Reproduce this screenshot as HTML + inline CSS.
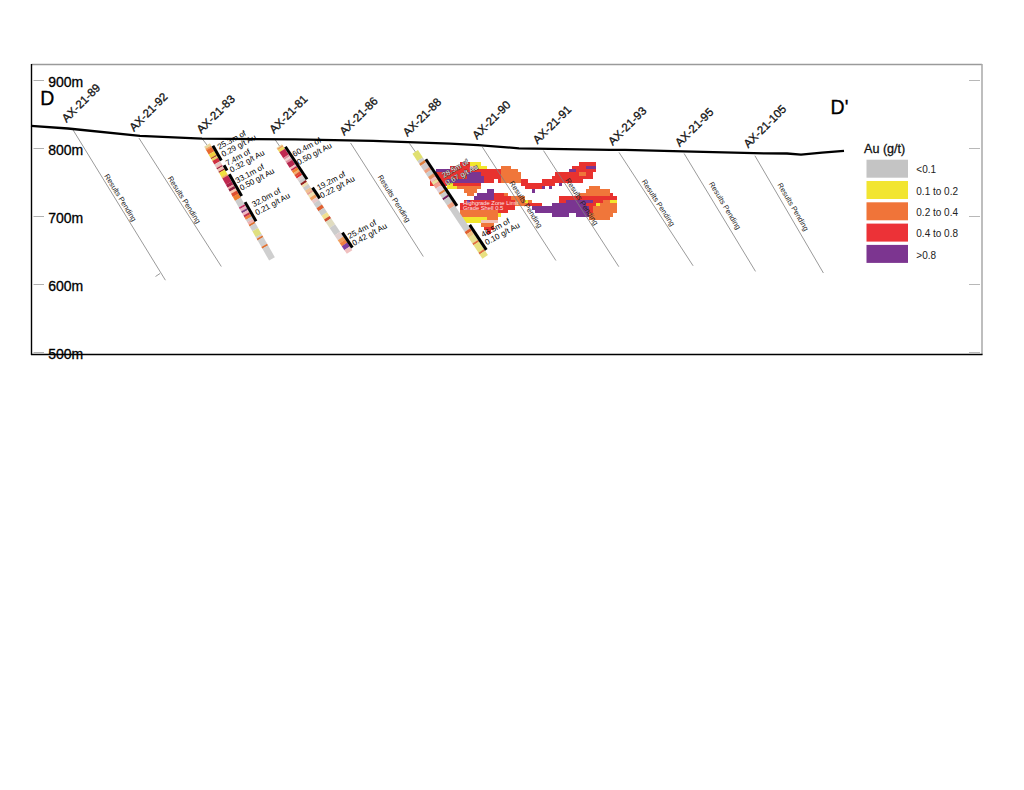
<!DOCTYPE html>
<html><head><meta charset="utf-8"><style>html,body{margin:0;padding:0;background:#fff;width:1024px;height:790px;overflow:hidden}svg{display:block}</style></head>
<body><svg width="1024" height="790" viewBox="0 0 1024 790"><line x1="31.5" y1="64.5" x2="982" y2="64.5" stroke="#9a9a9a" stroke-width="1.3"/>
<line x1="982" y1="64" x2="982" y2="355" stroke="#a8a8a8" stroke-width="1.5"/>
<line x1="31.5" y1="64" x2="31.5" y2="355" stroke="#000" stroke-width="1.4"/>
<line x1="31" y1="354.5" x2="982.5" y2="354.5" stroke="#000" stroke-width="1.4"/>
<line x1="33.5" y1="80.5" x2="44" y2="80.5" stroke="#b0b0b0" stroke-width="1"/>
<line x1="969" y1="80.5" x2="980" y2="80.5" stroke="#b8b8b8" stroke-width="1"/>
<text x="48.2" y="87.0" font-size="14" font-family="Liberation Sans, sans-serif" fill="#000" stroke="#000" stroke-width="0.3">900m</text>
<line x1="33.5" y1="148.5" x2="44" y2="148.5" stroke="#b0b0b0" stroke-width="1"/>
<line x1="969" y1="148.5" x2="980" y2="148.5" stroke="#b8b8b8" stroke-width="1"/>
<text x="48.2" y="155.0" font-size="14" font-family="Liberation Sans, sans-serif" fill="#000" stroke="#000" stroke-width="0.3">800m</text>
<line x1="33.5" y1="216.5" x2="44" y2="216.5" stroke="#b0b0b0" stroke-width="1"/>
<line x1="969" y1="216.5" x2="980" y2="216.5" stroke="#b8b8b8" stroke-width="1"/>
<text x="48.2" y="223.0" font-size="14" font-family="Liberation Sans, sans-serif" fill="#000" stroke="#000" stroke-width="0.3">700m</text>
<line x1="33.5" y1="284.5" x2="44" y2="284.5" stroke="#b0b0b0" stroke-width="1"/>
<line x1="969" y1="284.5" x2="980" y2="284.5" stroke="#b8b8b8" stroke-width="1"/>
<text x="48.2" y="291.0" font-size="14" font-family="Liberation Sans, sans-serif" fill="#000" stroke="#000" stroke-width="0.3">600m</text>
<line x1="33.5" y1="352.5" x2="44" y2="352.5" stroke="#b0b0b0" stroke-width="1"/>
<line x1="969" y1="352.5" x2="980" y2="352.5" stroke="#b8b8b8" stroke-width="1"/>
<text x="48.2" y="359.0" font-size="14" font-family="Liberation Sans, sans-serif" fill="#000" stroke="#000" stroke-width="0.3">500m</text>
<text x="40.3" y="105.1" font-size="19.5" font-family="Liberation Sans, sans-serif" fill="#000" stroke="#000" stroke-width="0.3">D</text>
<text x="830.6" y="113.8" font-size="19.5" font-family="Liberation Sans, sans-serif" fill="#000" stroke="#000" stroke-width="0.3">D'</text>
<g shape-rendering="crispEdges">
<rect x="460.10" y="162.10" width="10.25" height="3.45" fill="#e8322f"/>
<rect x="470.30" y="162.10" width="10.25" height="3.45" fill="#f2e62e"/>
<rect x="579.10" y="162.10" width="17.05" height="3.45" fill="#e8322f"/>
<rect x="449.90" y="165.50" width="20.45" height="3.45" fill="#e8322f"/>
<rect x="470.30" y="165.50" width="6.85" height="3.45" fill="#f2c4b8"/>
<rect x="477.10" y="165.50" width="10.25" height="3.45" fill="#f2e62e"/>
<rect x="500.90" y="165.50" width="10.25" height="3.45" fill="#f0763a"/>
<rect x="572.30" y="165.50" width="13.65" height="3.45" fill="#e8322f"/>
<rect x="585.90" y="165.50" width="10.25" height="3.45" fill="#7a3591"/>
<rect x="436.30" y="168.90" width="13.65" height="3.45" fill="#7a3591"/>
<rect x="449.90" y="168.90" width="51.05" height="3.45" fill="#e8322f"/>
<rect x="500.90" y="168.90" width="17.05" height="3.45" fill="#f0763a"/>
<rect x="568.90" y="168.90" width="6.85" height="3.45" fill="#7a3591"/>
<rect x="575.70" y="168.90" width="20.45" height="3.45" fill="#e8322f"/>
<rect x="436.30" y="172.30" width="30.65" height="3.45" fill="#e8322f"/>
<rect x="466.90" y="172.30" width="13.65" height="3.45" fill="#7a3591"/>
<rect x="480.50" y="172.30" width="20.45" height="3.45" fill="#e8322f"/>
<rect x="500.90" y="172.30" width="20.45" height="3.45" fill="#f0763a"/>
<rect x="555.30" y="172.30" width="23.85" height="3.45" fill="#e8322f"/>
<rect x="579.10" y="172.30" width="6.85" height="3.45" fill="#f0763a"/>
<rect x="585.90" y="172.30" width="6.85" height="3.45" fill="#e8322f"/>
<rect x="429.50" y="175.70" width="37.45" height="3.45" fill="#e8322f"/>
<rect x="466.90" y="175.70" width="17.05" height="3.45" fill="#7a3591"/>
<rect x="483.90" y="175.70" width="17.05" height="3.45" fill="#e8322f"/>
<rect x="500.90" y="175.70" width="20.45" height="3.45" fill="#f0763a"/>
<rect x="551.90" y="175.70" width="40.85" height="3.45" fill="#e8322f"/>
<rect x="429.50" y="179.10" width="17.05" height="3.45" fill="#e8322f"/>
<rect x="446.50" y="179.10" width="37.45" height="3.45" fill="#7a3591"/>
<rect x="483.90" y="179.10" width="10.25" height="3.45" fill="#e8322f"/>
<rect x="497.50" y="179.10" width="3.45" height="3.45" fill="#e8322f"/>
<rect x="500.90" y="179.10" width="20.45" height="3.45" fill="#f0763a"/>
<rect x="521.30" y="179.10" width="6.85" height="3.45" fill="#e8322f"/>
<rect x="541.70" y="179.10" width="40.85" height="3.45" fill="#e8322f"/>
<rect x="429.50" y="182.50" width="17.05" height="3.45" fill="#e8322f"/>
<rect x="446.50" y="182.50" width="6.85" height="3.45" fill="#f2e62e"/>
<rect x="453.30" y="182.50" width="27.25" height="3.45" fill="#e8322f"/>
<rect x="521.30" y="182.50" width="34.05" height="3.45" fill="#e8322f"/>
<rect x="558.70" y="182.50" width="3.45" height="3.45" fill="#7a3591"/>
<rect x="446.50" y="185.90" width="10.25" height="3.45" fill="#f2e62e"/>
<rect x="456.70" y="185.90" width="23.85" height="3.45" fill="#f0763a"/>
<rect x="524.70" y="185.90" width="17.05" height="3.45" fill="#e8322f"/>
<rect x="541.70" y="185.90" width="3.45" height="3.45" fill="#7a3591"/>
<rect x="548.50" y="185.90" width="3.45" height="3.45" fill="#7a3591"/>
<rect x="589.30" y="185.90" width="10.25" height="3.45" fill="#f0763a"/>
<rect x="463.50" y="189.30" width="13.65" height="3.45" fill="#f0763a"/>
<rect x="487.30" y="189.30" width="6.85" height="3.45" fill="#7a3591"/>
<rect x="531.50" y="189.30" width="3.45" height="3.45" fill="#7a3591"/>
<rect x="585.90" y="189.30" width="23.85" height="3.45" fill="#f0763a"/>
<rect x="466.90" y="192.70" width="6.85" height="3.45" fill="#f0763a"/>
<rect x="477.10" y="192.70" width="17.05" height="3.45" fill="#7a3591"/>
<rect x="494.10" y="192.70" width="10.25" height="3.45" fill="#e8322f"/>
<rect x="504.30" y="192.70" width="3.45" height="3.45" fill="#f0763a"/>
<rect x="579.10" y="192.70" width="30.65" height="3.45" fill="#f0763a"/>
<rect x="609.70" y="192.70" width="3.45" height="3.45" fill="#e8322f"/>
<rect x="473.70" y="196.10" width="20.45" height="3.45" fill="#7a3591"/>
<rect x="494.10" y="196.10" width="17.05" height="3.45" fill="#e8322f"/>
<rect x="511.10" y="196.10" width="13.65" height="3.45" fill="#f0763a"/>
<rect x="558.70" y="196.10" width="57.85" height="3.45" fill="#e8322f"/>
<rect x="463.50" y="199.50" width="3.45" height="3.45" fill="#e8322f"/>
<rect x="466.90" y="199.50" width="3.45" height="3.45" fill="#7a3591"/>
<rect x="470.30" y="199.50" width="44.25" height="3.45" fill="#e8322f"/>
<rect x="514.50" y="199.50" width="10.25" height="3.45" fill="#f0763a"/>
<rect x="524.70" y="199.50" width="3.45" height="3.45" fill="#f2e62e"/>
<rect x="528.10" y="199.50" width="3.45" height="3.45" fill="#f0763a"/>
<rect x="558.70" y="199.50" width="6.85" height="3.45" fill="#e8322f"/>
<rect x="565.50" y="199.50" width="27.25" height="3.45" fill="#7a3591"/>
<rect x="592.70" y="199.50" width="10.25" height="3.45" fill="#e8322f"/>
<rect x="602.90" y="199.50" width="6.85" height="3.45" fill="#f0763a"/>
<rect x="609.70" y="199.50" width="6.85" height="3.45" fill="#f2e62e"/>
<rect x="460.10" y="202.90" width="54.45" height="3.45" fill="#e8322f"/>
<rect x="514.50" y="202.90" width="13.65" height="3.45" fill="#f0763a"/>
<rect x="528.10" y="202.90" width="13.65" height="3.45" fill="#e8322f"/>
<rect x="551.90" y="202.90" width="34.05" height="3.45" fill="#7a3591"/>
<rect x="585.90" y="202.90" width="10.25" height="3.45" fill="#e8322f"/>
<rect x="596.10" y="202.90" width="3.45" height="3.45" fill="#f2e62e"/>
<rect x="599.50" y="202.90" width="17.05" height="3.45" fill="#f0763a"/>
<rect x="460.10" y="206.30" width="54.45" height="3.45" fill="#e8322f"/>
<rect x="531.50" y="206.30" width="57.85" height="3.45" fill="#7a3591"/>
<rect x="589.30" y="206.30" width="3.45" height="3.45" fill="#e8322f"/>
<rect x="592.70" y="206.30" width="23.85" height="3.45" fill="#f0763a"/>
<rect x="460.10" y="209.70" width="37.45" height="3.45" fill="#f0763a"/>
<rect x="497.50" y="209.70" width="10.25" height="3.45" fill="#e8322f"/>
<rect x="534.90" y="209.70" width="54.45" height="3.45" fill="#7a3591"/>
<rect x="589.30" y="209.70" width="3.45" height="3.45" fill="#e8322f"/>
<rect x="592.70" y="209.70" width="23.85" height="3.45" fill="#f0763a"/>
<rect x="456.70" y="213.10" width="40.85" height="3.45" fill="#f0763a"/>
<rect x="497.50" y="213.10" width="3.45" height="3.45" fill="#f2e62e"/>
<rect x="551.90" y="213.10" width="17.05" height="3.45" fill="#7a3591"/>
<rect x="575.70" y="213.10" width="13.65" height="3.45" fill="#7a3591"/>
<rect x="589.30" y="213.10" width="23.85" height="3.45" fill="#f0763a"/>
<rect x="460.10" y="216.50" width="27.25" height="3.45" fill="#f2e62e"/>
<rect x="487.30" y="216.50" width="10.25" height="3.45" fill="#f0763a"/>
<rect x="589.30" y="216.50" width="20.45" height="3.45" fill="#f0763a"/>
<rect x="460.10" y="219.90" width="20.45" height="3.45" fill="#f2e62e"/>
<rect x="480.50" y="219.90" width="17.05" height="3.45" fill="#f2c4b8"/>
<rect x="480.50" y="223.30" width="13.65" height="3.45" fill="#f0763a"/>
<rect x="483.90" y="226.70" width="10.25" height="3.45" fill="#e8322f"/>
<rect x="487.30" y="230.10" width="3.45" height="3.45" fill="#e8322f"/>
</g>
<text x="463" y="205.4" font-size="5.8" font-family="Liberation Sans, sans-serif" fill="#fbe4e4">Highgrade Zone Limit</text>
<text x="463" y="210.3" font-size="5.8" font-family="Liberation Sans, sans-serif" fill="#fbe4e4">Grade Shell 0.5</text>
<line x1="72.9" y1="129.7" x2="165.4" y2="280.2" stroke="#808080" stroke-width="0.8"/>
<text transform="translate(103.0,176.6) rotate(58.4) translate(0,-1.3)" font-size="7.45" font-family="Liberation Sans, sans-serif" fill="#222">Results Pending</text>
<line x1="138.9" y1="138" x2="221.3" y2="266.5" stroke="#808080" stroke-width="0.8"/>
<text transform="translate(166.3,179.0) rotate(57.3) translate(0,-1.3)" font-size="7.45" font-family="Liberation Sans, sans-serif" fill="#222">Results Pending</text>
<line x1="350.6" y1="143" x2="423.3" y2="256.5" stroke="#808080" stroke-width="0.8"/>
<text transform="translate(376.3,177.8) rotate(57.4) translate(0,-1.3)" font-size="7.45" font-family="Liberation Sans, sans-serif" fill="#222">Results Pending</text>
<line x1="482.4" y1="147.1" x2="555.9" y2="260.5" stroke="#808080" stroke-width="0.8"/>
<text transform="translate(508.0,183.7) rotate(57.1) translate(0,-1.3)" font-size="7.45" font-family="Liberation Sans, sans-serif" fill="#222">Results Pending</text>
<line x1="543.5" y1="150.6" x2="618.8" y2="266.7" stroke="#808080" stroke-width="0.8"/>
<text transform="translate(563.9,180.9) rotate(57.0) translate(0,-1.3)" font-size="7.45" font-family="Liberation Sans, sans-serif" fill="#222">Results Pending</text>
<line x1="619" y1="152.4" x2="693.1" y2="265.8" stroke="#808080" stroke-width="0.8"/>
<text transform="translate(640.3,182.2) rotate(56.8) translate(0,-1.3)" font-size="7.45" font-family="Liberation Sans, sans-serif" fill="#222">Results Pending</text>
<line x1="684.1" y1="153.5" x2="755.5" y2="271.4" stroke="#808080" stroke-width="0.8"/>
<text transform="translate(707.7,184.4) rotate(58.8) translate(0,-1.3)" font-size="7.45" font-family="Liberation Sans, sans-serif" fill="#222">Results Pending</text>
<line x1="754.9" y1="155.7" x2="823.4" y2="273" stroke="#808080" stroke-width="0.8"/>
<text transform="translate(776.2,185.4) rotate(59.7) translate(0,-1.3)" font-size="7.45" font-family="Liberation Sans, sans-serif" fill="#222">Results Pending</text>
<line x1="155.5" y1="276.5" x2="160" y2="273.5" stroke="#808080" stroke-width="0.8"/>
<line x1="202" y1="138.5" x2="207" y2="145" stroke="#808080" stroke-width="0.8"/>
<line x1="275" y1="139.5" x2="279.5" y2="146" stroke="#808080" stroke-width="0.8"/>
<line x1="409.5" y1="143.5" x2="415.5" y2="152" stroke="#808080" stroke-width="0.8"/>
<polyline fill="none" stroke="#000" stroke-width="2.3" stroke-linejoin="round" points="31,125.8 68,128.5 140,135.9 202,138.7 295,139.4 373,140.9 450,143.6 478,145.2 519,148.3 610,149.8 625,149.8 683,151.4 765,153.4 787,153.5 801,154.7 822,152.6 844,150.8"/>
<text transform="translate(66.6,122.9) rotate(-45)" font-size="11.5" font-family="Liberation Sans, sans-serif" fill="#111" stroke="#111" stroke-width="0.3">AX-21-89</text>
<text transform="translate(134.0,131.9) rotate(-45)" font-size="11.5" font-family="Liberation Sans, sans-serif" fill="#111" stroke="#111" stroke-width="0.3">AX-21-92</text>
<text transform="translate(201.3,134.1) rotate(-45)" font-size="11.5" font-family="Liberation Sans, sans-serif" fill="#111" stroke="#111" stroke-width="0.3">AX-21-83</text>
<text transform="translate(274.0,134.1) rotate(-45)" font-size="11.5" font-family="Liberation Sans, sans-serif" fill="#111" stroke="#111" stroke-width="0.3">AX-21-81</text>
<text transform="translate(344.2,136.0) rotate(-45)" font-size="11.5" font-family="Liberation Sans, sans-serif" fill="#111" stroke="#111" stroke-width="0.3">AX-21-86</text>
<text transform="translate(407.6,137.0) rotate(-45)" font-size="11.5" font-family="Liberation Sans, sans-serif" fill="#111" stroke="#111" stroke-width="0.3">AX-21-88</text>
<text transform="translate(477.0,139.9) rotate(-45)" font-size="11.5" font-family="Liberation Sans, sans-serif" fill="#111" stroke="#111" stroke-width="0.3">AX-21-90</text>
<text transform="translate(537.6,144.5) rotate(-45)" font-size="11.5" font-family="Liberation Sans, sans-serif" fill="#111" stroke="#111" stroke-width="0.3">AX-21-91</text>
<text transform="translate(612.8,145.9) rotate(-45)" font-size="11.5" font-family="Liberation Sans, sans-serif" fill="#111" stroke="#111" stroke-width="0.3">AX-21-93</text>
<text transform="translate(679.8,147.2) rotate(-45)" font-size="11.5" font-family="Liberation Sans, sans-serif" fill="#111" stroke="#111" stroke-width="0.3">AX-21-95</text>
<text transform="translate(748.2,148.6) rotate(-45)" font-size="11.5" font-family="Liberation Sans, sans-serif" fill="#111" stroke="#111" stroke-width="0.3">AX-21-105</text>
<g transform="translate(207,145) rotate(60.3)">
<rect x="0" y="-3.3" width="2.55" height="6.6" fill="#e8d8a0"/>
<rect x="2.4" y="-3.3" width="1.95" height="6.6" fill="#f0a060"/>
<rect x="4.2" y="-3.3" width="4.95" height="6.6" fill="#e86a30"/>
<rect x="9" y="-3.3" width="4.15" height="6.6" fill="#f0d040"/>
<rect x="13" y="-3.3" width="1.65" height="6.6" fill="#b05020"/>
<rect x="14.5" y="-3.3" width="2.25" height="6.6" fill="#f0d060"/>
<rect x="16.6" y="-3.3" width="4.05" height="6.6" fill="#d03040"/>
<rect x="20.5" y="-3.3" width="2.85" height="6.6" fill="#e0c8c8"/>
<rect x="23.2" y="-3.3" width="1.85" height="6.6" fill="#f0b8b0"/>
<rect x="24.9" y="-3.3" width="1.45" height="6.6" fill="#a02040"/>
<rect x="26.2" y="-3.3" width="2.85" height="6.6" fill="#f0c0b0"/>
<rect x="28.9" y="-3.3" width="1.45" height="6.6" fill="#a02030"/>
<rect x="30.2" y="-3.3" width="4.95" height="6.6" fill="#f0e040"/>
<rect x="35" y="-3.3" width="1.95" height="6.6" fill="#f0b060"/>
<rect x="36.8" y="-3.3" width="7.15" height="6.6" fill="#c02850"/>
<rect x="43.8" y="-3.3" width="3.65" height="6.6" fill="#a82048"/>
<rect x="47.3" y="-3.3" width="1.85" height="6.6" fill="#f0a0a0"/>
<rect x="49" y="-3.3" width="2.85" height="6.6" fill="#902040"/>
<rect x="51.7" y="-3.3" width="2.75" height="6.6" fill="#f8c8b0"/>
<rect x="54.3" y="-3.3" width="3.65" height="6.6" fill="#e05030"/>
<rect x="57.8" y="-3.3" width="4.75" height="6.6" fill="#f08030"/>
<rect x="62.4" y="-3.3" width="7.75" height="6.6" fill="#cccccc"/>
<rect x="70" y="-3.3" width="2.05" height="6.6" fill="#c03060"/>
<rect x="71.9" y="-3.3" width="2.95" height="6.6" fill="#e8b0c0"/>
<rect x="74.7" y="-3.3" width="2.05" height="6.6" fill="#804080"/>
<rect x="76.6" y="-3.3" width="2.95" height="6.6" fill="#f0b8c0"/>
<rect x="79.4" y="-3.3" width="2.15" height="6.6" fill="#c03050"/>
<rect x="81.4" y="-3.3" width="2.95" height="6.6" fill="#f08040"/>
<rect x="84.2" y="-3.3" width="2.95" height="6.6" fill="#d0c8c8"/>
<rect x="87" y="-3.3" width="3.05" height="6.6" fill="#f0b0b0"/>
<rect x="89.9" y="-3.3" width="2.05" height="6.6" fill="#e07030"/>
<rect x="91.8" y="-3.3" width="5.75" height="6.6" fill="#cfcfcf"/>
<rect x="97.4" y="-3.3" width="6.85" height="6.6" fill="#e0e080"/>
<rect x="104.1" y="-3.3" width="2.05" height="6.6" fill="#cfcfcf"/>
<rect x="106" y="-3.3" width="2.05" height="6.6" fill="#e07030"/>
<rect x="107.9" y="-3.3" width="7.75" height="6.6" fill="#cfcfcf"/>
<rect x="115.5" y="-3.3" width="2.05" height="6.6" fill="#e07030"/>
<rect x="117.4" y="-3.3" width="13.75" height="6.6" fill="#cfcfcf"/>
<rect x="3.5" y="-6.3" width="17.0" height="3.0" fill="#000"/>
<rect x="26" y="-6.3" width="6" height="3.0" fill="#000"/>
<rect x="36.5" y="-6.3" width="25.0" height="3.0" fill="#000"/>
<rect x="68.5" y="-6.3" width="22.0" height="3.0" fill="#000"/>
</g>
<g transform="translate(279.2,146.1) rotate(56.4)">
<rect x="0" y="-3.3" width="1.15" height="6.6" fill="#e8d8a0"/>
<rect x="1" y="-3.3" width="1.75" height="6.6" fill="#f0a060"/>
<rect x="2.6" y="-3.3" width="2.85" height="6.6" fill="#f0d860"/>
<rect x="5.3" y="-3.3" width="7.05" height="6.6" fill="#c02850"/>
<rect x="12.2" y="-3.3" width="2.25" height="6.6" fill="#e090a0"/>
<rect x="14.3" y="-3.3" width="2.25" height="6.6" fill="#f0d0d0"/>
<rect x="16.4" y="-3.3" width="2.25" height="6.6" fill="#e090a0"/>
<rect x="18.5" y="-3.3" width="5.55" height="6.6" fill="#b82850"/>
<rect x="23.9" y="-3.3" width="2.25" height="6.6" fill="#f0c0c0"/>
<rect x="26" y="-3.3" width="1.75" height="6.6" fill="#c02850"/>
<rect x="27.6" y="-3.3" width="2.85" height="6.6" fill="#f08030"/>
<rect x="30.3" y="-3.3" width="2.25" height="6.6" fill="#f0b070"/>
<rect x="32.4" y="-3.3" width="2.25" height="6.6" fill="#e05030"/>
<rect x="34.5" y="-3.3" width="2.35" height="6.6" fill="#e03030"/>
<rect x="36.7" y="-3.3" width="3.25" height="6.6" fill="#e0d0d0"/>
<rect x="39.8" y="-3.3" width="3.35" height="6.6" fill="#cccccc"/>
<rect x="43" y="-3.3" width="2.25" height="6.6" fill="#902020"/>
<rect x="45.1" y="-3.3" width="2.85" height="6.6" fill="#f0e0b0"/>
<rect x="47.8" y="-3.3" width="3.85" height="6.6" fill="#cccccc"/>
<rect x="51.5" y="-3.3" width="3.35" height="6.6" fill="#f0c090"/>
<rect x="54.7" y="-3.3" width="2.25" height="6.6" fill="#e8a090"/>
<rect x="56.8" y="-3.3" width="3.35" height="6.6" fill="#f0e0b0"/>
<rect x="60" y="-3.3" width="3.35" height="6.6" fill="#f0a060"/>
<rect x="63.2" y="-3.3" width="3.95" height="6.6" fill="#e8c8c8"/>
<rect x="67" y="-3.3" width="5.55" height="6.6" fill="#cccccc"/>
<rect x="72.4" y="-3.3" width="3.75" height="6.6" fill="#e06030"/>
<rect x="76" y="-3.3" width="5.65" height="6.6" fill="#cccccc"/>
<rect x="81.5" y="-3.3" width="4.65" height="6.6" fill="#f0e090"/>
<rect x="86" y="-3.3" width="2.95" height="6.6" fill="#d05030"/>
<rect x="88.8" y="-3.3" width="7.35" height="6.6" fill="#e0dcc0"/>
<rect x="96" y="-3.3" width="9.15" height="6.6" fill="#cccccc"/>
<rect x="105" y="-3.3" width="5.85" height="6.6" fill="#e0d0d0"/>
<rect x="110.7" y="-3.3" width="3.85" height="6.6" fill="#f0a060"/>
<rect x="114.4" y="-3.3" width="3.75" height="6.6" fill="#f08040"/>
<rect x="118" y="-3.3" width="4.75" height="6.6" fill="#8040a0"/>
<rect x="122.6" y="-3.3" width="4.55" height="6.6" fill="#f0c0c0"/>
<rect x="4" y="-6.3" width="39" height="3.0" fill="#000"/>
<rect x="53" y="-6.3" width="13" height="3.0" fill="#000"/>
<rect x="107" y="-6.3" width="18" height="3.0" fill="#000"/>
</g>
<g transform="translate(415.2,151.9) rotate(56.3)">
<rect x="0" y="-3.3" width="8.95" height="6.6" fill="#e0e070"/>
<rect x="8.8" y="-3.3" width="3.35" height="6.6" fill="#cccccc"/>
<rect x="12" y="-3.3" width="2.75" height="6.6" fill="#e08040"/>
<rect x="14.6" y="-3.3" width="6.05" height="6.6" fill="#d0c8c8"/>
<rect x="20.5" y="-3.3" width="3.35" height="6.6" fill="#f0a080"/>
<rect x="23.7" y="-3.3" width="4.45" height="6.6" fill="#cccccc"/>
<rect x="28" y="-3.3" width="3.35" height="6.6" fill="#e89060"/>
<rect x="31.2" y="-3.3" width="3.35" height="6.6" fill="#f0c0c0"/>
<rect x="34.4" y="-3.3" width="3.35" height="6.6" fill="#e8e0a0"/>
<rect x="37.6" y="-3.3" width="4.45" height="6.6" fill="#f0a090"/>
<rect x="41.9" y="-3.3" width="5.55" height="6.6" fill="#e0d0d8"/>
<rect x="47.3" y="-3.3" width="2.25" height="6.6" fill="#e08040"/>
<rect x="49.4" y="-3.3" width="4.45" height="6.6" fill="#cccccc"/>
<rect x="53.7" y="-3.3" width="2.25" height="6.6" fill="#702060"/>
<rect x="55.8" y="-3.3" width="6.55" height="6.6" fill="#cccccc"/>
<rect x="62.2" y="-3.3" width="4.45" height="6.6" fill="#f0a080"/>
<rect x="66.5" y="-3.3" width="27.65" height="6.6" fill="#cccccc"/>
<rect x="94" y="-3.3" width="3.15" height="6.6" fill="#e06030"/>
<rect x="97" y="-3.3" width="4.15" height="6.6" fill="#f0c080"/>
<rect x="101" y="-3.3" width="7.15" height="6.6" fill="#e8e090"/>
<rect x="108" y="-3.3" width="2.15" height="6.6" fill="#e07040"/>
<rect x="110" y="-3.3" width="9.15" height="6.6" fill="#e8e080"/>
<rect x="119" y="-3.3" width="2.15" height="6.6" fill="#e07040"/>
<rect x="121" y="-3.3" width="5.15" height="6.6" fill="#e8e080"/>
<rect x="12" y="-6.3" width="56" height="3.0" fill="#000"/>
<rect x="91" y="-6.3" width="30" height="3.0" fill="#000"/>
</g>
<text transform="translate(219.2,149.7) rotate(-28.5)" font-size="8" font-family="Liberation Sans, sans-serif" fill="#000">25.3m of</text>
<text transform="translate(223.3,157.1) rotate(-28.5)" font-size="8" font-family="Liberation Sans, sans-serif" fill="#000">0.29 g/t Au</text>
<text transform="translate(227.5,166.1) rotate(-28.5)" font-size="8" font-family="Liberation Sans, sans-serif" fill="#000">7.4m of</text>
<text transform="translate(231.6,172.7) rotate(-28.5)" font-size="8" font-family="Liberation Sans, sans-serif" fill="#000">0.32 g/t Au</text>
<text transform="translate(237.3,183.4) rotate(-28.5)" font-size="8" font-family="Liberation Sans, sans-serif" fill="#000">33.1m of</text>
<text transform="translate(241.4,190.8) rotate(-28.5)" font-size="8" font-family="Liberation Sans, sans-serif" fill="#000">0.50 g/t Au</text>
<text transform="translate(253.8,207.3) rotate(-28.5)" font-size="8" font-family="Liberation Sans, sans-serif" fill="#000">32.0m of</text>
<text transform="translate(257.1,215.5) rotate(-28.5)" font-size="8" font-family="Liberation Sans, sans-serif" fill="#000">0.21 g/t Au</text>
<text transform="translate(294.3,156.9) rotate(-28.5)" font-size="8" font-family="Liberation Sans, sans-serif" fill="#000">60.4m of</text>
<text transform="translate(298.7,165.3) rotate(-28.5)" font-size="8" font-family="Liberation Sans, sans-serif" fill="#000">0.50 g/t Au</text>
<text transform="translate(318.7,190.6) rotate(-28.5)" font-size="8" font-family="Liberation Sans, sans-serif" fill="#000">19.2m of</text>
<text transform="translate(321.8,198.6) rotate(-28.5)" font-size="8" font-family="Liberation Sans, sans-serif" fill="#000">0.22 g/t Au</text>
<text transform="translate(349.5,239.1) rotate(-28.5)" font-size="8" font-family="Liberation Sans, sans-serif" fill="#000">25.4m of</text>
<text transform="translate(354.0,245.9) rotate(-28.5)" font-size="8" font-family="Liberation Sans, sans-serif" fill="#000">0.42 g/t Au</text>
<text transform="translate(483.0,237.6) rotate(-28.5)" font-size="8" font-family="Liberation Sans, sans-serif" fill="#000">46.5m of</text>
<text transform="translate(486.8,245.2) rotate(-28.5)" font-size="8" font-family="Liberation Sans, sans-serif" fill="#000">0.10 g/t Au</text>
<text stroke="#111" stroke-width="0.6" paint-order="stroke" transform="translate(443.8,178.0) rotate(-30)" font-size="7.5" font-family="Liberation Sans, sans-serif" fill="#fff">28.5m of</text>
<text stroke="#111" stroke-width="0.6" paint-order="stroke" transform="translate(447.0,185.5) rotate(-28)" font-size="7.5" font-family="Liberation Sans, sans-serif" fill="#fff">0.67 g/t Au</text>
<text x="864" y="153.4" font-size="12.6" font-family="Liberation Sans, sans-serif" fill="#111" stroke="#111" stroke-width="0.3">Au (g/t)</text>
<rect x="866.5" y="159.7" width="41.5" height="18" fill="#c4c4c4"/>
<text x="916.3" y="173.3" font-size="10" font-family="Liberation Sans, sans-serif" fill="#222">&lt;0.1</text>
<rect x="866.5" y="181.0" width="41.5" height="18" fill="#f2e531"/>
<text x="916.3" y="194.6" font-size="10" font-family="Liberation Sans, sans-serif" fill="#222">0.1 to 0.2</text>
<rect x="866.5" y="202.3" width="41.5" height="18" fill="#f07439"/>
<text x="916.3" y="215.9" font-size="10" font-family="Liberation Sans, sans-serif" fill="#222">0.2 to 0.4</text>
<rect x="866.5" y="223.6" width="41.5" height="18" fill="#ec3237"/>
<text x="916.3" y="237.2" font-size="10" font-family="Liberation Sans, sans-serif" fill="#222">0.4 to 0.8</text>
<rect x="866.5" y="244.9" width="41.5" height="18" fill="#7c3590"/>
<text x="916.3" y="258.5" font-size="10" font-family="Liberation Sans, sans-serif" fill="#222">&gt;0.8</text></svg></body></html>
